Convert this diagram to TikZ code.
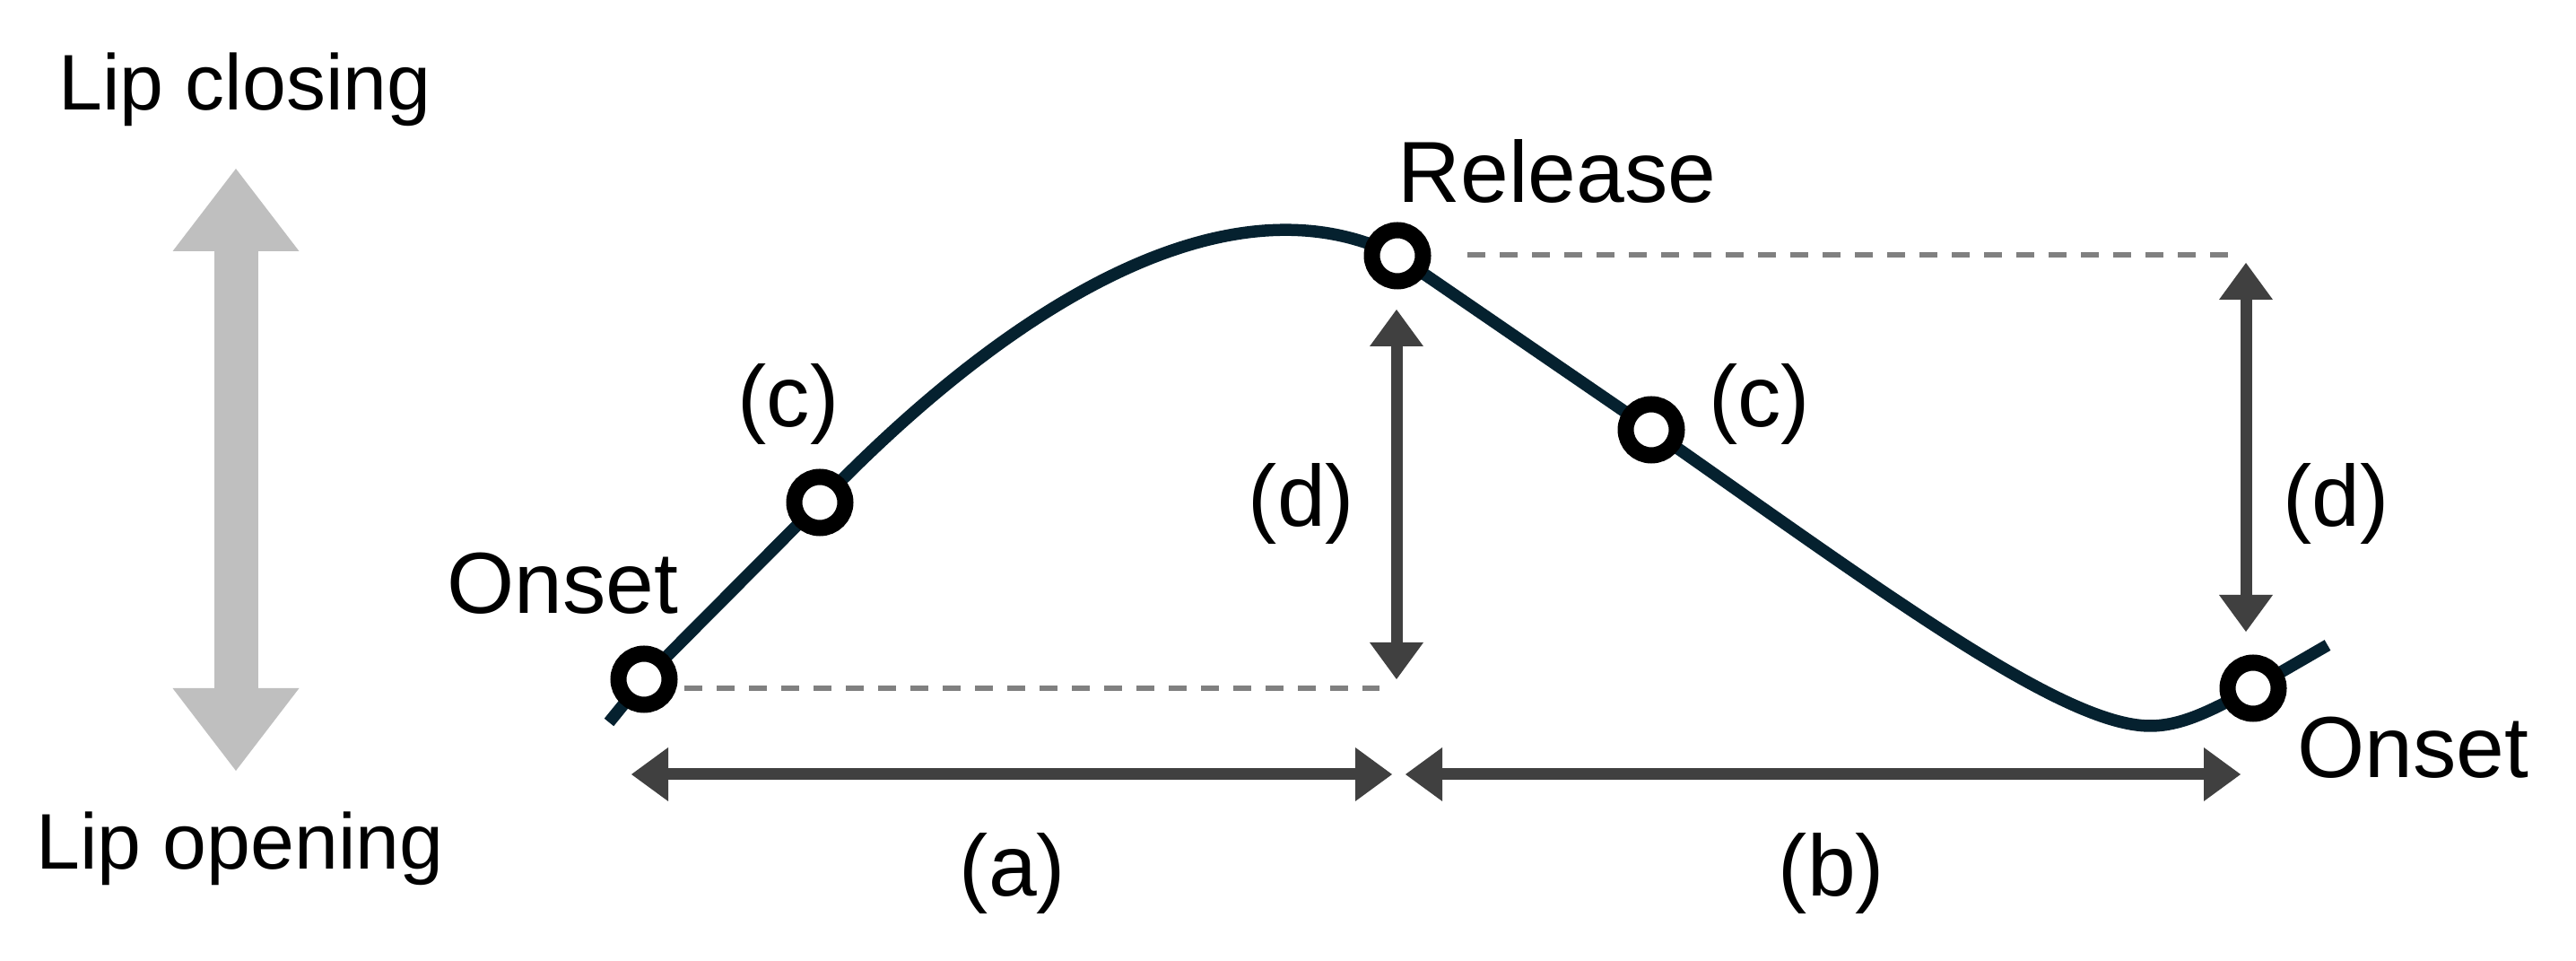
\documentclass[tikz,border=0pt]{standalone}
\usepackage{fontspec}
\setmainfont{Liberation Sans}
\usetikzlibrary{arrows.meta}
\usepackage{xcolor}

\definecolor{traceblue}{HTML}{05212F}
\definecolor{dimgray}{HTML}{404040}
\definecolor{guidegray}{HTML}{808080}
\definecolor{liftgray}{HTML}{BFBFBF}

\begin{document}
\begin{tikzpicture}[
    dot/.style={circle, draw=black, fill=white, line width=0.18cm, minimum size=0.57cm, inner sep=0pt},
    lbl/.style={anchor=base, inner sep=0pt, font=\fontsize{27.5}{33}\selectfont},
    lip/.style={anchor=base, inner sep=0pt, font=\fontsize{25}{30}\selectfont},
    trace/.style={draw=traceblue, line width=0.135cm, line join=round},
    dim/.style={draw=dimgray, line width=0.13cm,
        {Triangle[length=0.41cm,width=0.6cm,line width=0pt]}-{Triangle[length=0.41cm,width=0.6cm,line width=0pt]}},
    guide/.style={draw=guidegray, line width=0.055cm, dash pattern=on 0.2cm off 0.16cm},
    updown/.style={draw=liftgray, line width=0.49cm,
        {Triangle[length=0.92cm,width=1.41cm,line width=0pt]}-{Triangle[length=0.92cm,width=1.41cm,line width=0pt]}}
]
    \useasboundingbox (0,0) rectangle (28.72,10.71);

    % Lip movement direction
    \coordinate (liftTop) at (2.63,8.83);
    \coordinate (liftBot) at (2.63,2.12);
    \draw[updown] (liftTop) -- (liftBot);
    \node[lip] (closing) at (2.73,9.48) {Lip closing};
    \node[lip] (opening) at (2.675,1.02) {Lip opening};

    % Points on the trajectory
    \coordinate (onL) at (7.18,3.14);
    \coordinate (cL) at (9.14,5.11);
    \coordinate (rel) at (15.58,7.86);
    \coordinate (cR) at (18.41,5.92);
    \coordinate (low) at (23.97,2.62);
    \coordinate (onR) at (25.12,3.04);

    % Trajectory
    \draw[trace] (6.79,2.66) -- (onL) -- (cL)
        .. controls (11.04,7.09) and (13.58,8.86) .. (rel)
        -- (cR)
        .. controls (21.01,4.10) and (23.0,2.62) .. (low)
        .. controls (24.35,2.62) and (24.7,2.82) .. (onR)
        -- (25.95,3.52);

    % Guide lines
    \coordinate (gL1) at (7.63,3.04);
    \coordinate (gL2) at (15.375,3.04);
    \coordinate (gR1) at (16.36,7.87);
    \coordinate (gR2) at (24.84,7.87);
    \draw[guide] (gL1) -- (gL2);
    \draw[guide] (gR1) -- (gR2);

    % Landmarks
    \node[dot] (onsetL) at (onL) {};
    \node[dot] (peakL) at (cL) {};
    \node[dot] (release) at (rel) {};
    \node[dot] (peakR) at (cR) {};
    \node[dot] (onsetR) at (onR) {};

    % Durations and amplitudes
    \coordinate (aL) at (7.04,2.08);
    \coordinate (aR) at (15.52,2.08);
    \coordinate (bL) at (15.67,2.08);
    \coordinate (bR) at (24.98,2.08);
    \coordinate (dLtop) at (15.57,7.26);
    \coordinate (dLbot) at (15.57,3.14);
    \coordinate (dRtop) at (25.04,7.78);
    \coordinate (dRbot) at (25.04,3.67);
    \draw[dim] (aL) -- (aR);
    \draw[dim] (bL) -- (bR);
    \draw[dim] (dLtop) -- (dLbot);
    \draw[dim] (dRtop) -- (dRbot);

    % Labels
    \node[lbl] (onsetLtxt) at (6.275,3.87) {Onset};
    \node[lbl] (releasetxt) at (17.36,8.45) {Release};
    \node[lbl] (onsetRtxt) at (26.90,2.04) {Onset};
    \node[lbl] (cLtxt) at (8.79,5.95) {(c)};
    \node[lbl] (cRtxt) at (19.615,5.95) {(c)};
    \node[lbl] (dLtxt) at (14.51,4.84) {(d)};
    \node[lbl] (dRtxt) at (26.045,4.84) {(d)};
    \node[lbl] (atxt) at (11.29,0.72) {(a)};
    \node[lbl] (btxt) at (20.42,0.72) {(b)};
\end{tikzpicture}
\end{document}
